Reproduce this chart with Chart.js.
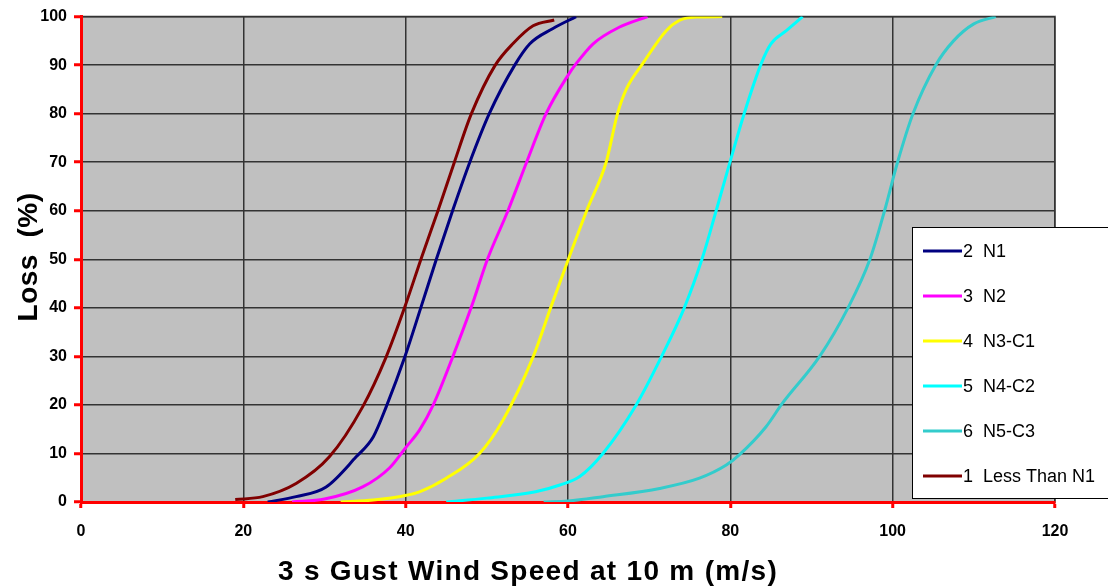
<!DOCTYPE html>
<html>
<head>
<meta charset="utf-8">
<script src="https://cdn.jsdelivr.net/npm/chart.js@4.4.1/dist/chart.umd.min.js"></script>
<style>
  html, body { margin: 0; padding: 0; background: #fff; }
  #wrap { width: 1108px; height: 586px; position: relative; }
</style>
</head>
<body>
<div id="wrap"><canvas id="myChart" width="1108" height="586"></canvas></div>
<script>
// wind speed (m/s) / loss (%)
const n1Speed = [23, 26.5, 30.2, 33.9, 36, 37.6, 39.9, 41.9, 43.8, 45.8, 47.9, 50.3, 53.4, 55.3, 58.1, 61];
const n1Loss  = [0, 1.1, 3.1, 9.3, 13.4, 19.6, 29.9, 40.2, 50.1, 60.1, 70, 80, 89.9, 94.4, 97.5, 100];

const n2Speed = [26, 30, 34.7, 38, 40.1, 41.7, 43.4, 45.8, 48.1, 50.1, 52.6, 54.9, 57.3, 60, 61, 63.1, 66.3, 69.8];
const n2Loss  = [0, 0.6, 3.1, 7, 11.4, 14.8, 20, 29.9, 40.2, 50.1, 60, 70, 80, 87.9, 90.3, 94.4, 97.8, 100];

const n3Speed = [32, 36, 40.1, 41.7, 45, 49.1, 52, 55.7, 57.9, 60, 62.3, 64.7, 66.1, 67.2, 69.2, 72.1, 73.7, 75.8, 79];
const n3Loss  = [0, 0.4, 1.4, 2.1, 4.9, 10, 16.9, 29.9, 40.2, 49.8, 60, 70, 80, 85.1, 90.3, 97.1, 99.2, 99.9, 100];

const n4Speed = [45, 50, 56, 59, 61.4, 64.3, 68.4, 71.5, 74.3, 76.5, 78.2, 79.9, 81.7, 83.8, 85, 86.9, 88.9];
const n4Loss  = [0, 0.8, 2.1, 3.5, 5.2, 10, 20, 29.9, 39.9, 50, 59.7, 69.7, 80, 90.3, 94.4, 97.1, 100];

const n5Speed = [57, 60, 64.3, 71.3, 76.2, 79.5, 81.1, 84.4, 86.4, 91, 94.5, 97.2, 99, 100.6, 102.5, 105.3, 107.5, 110, 112.7];
const n5Loss  = [0, 0.2, 1.1, 2.8, 4.9, 7.6, 9.7, 15.5, 20.3, 30, 40, 50, 60, 70, 80, 90, 95, 98.5, 100];

const lessSpeed = [19, 22.4, 26.5, 30.6, 34.7, 37.6, 39.9, 42, 44, 46, 48.1, 51, 53.2, 55.7, 58.3];
const lessLoss  = [0.5, 1.1, 3.8, 9.3, 19.6, 29.9, 40.2, 50.6, 60.1, 70, 80, 89.9, 94.4, 98.1, 99.3];

const seriesNames = ['2  N1', '3  N2', '4  N3-C1', '5  N4-C2', '6  N5-C3', '1  Less Than N1'];
const seriesColors = ['#000080', '#FF00FF', '#FFFF00', '#00FFFF', '#33CCCC', '#800000'];
const xTicks = [0, 20, 40, 60, 80, 100, 120];
const yTicks = [0, 10, 20, 30, 40, 50, 60, 70, 80, 90, 100];

function toPoints(xs, ys) {
  return xs.map((x, i) => ({ x: x, y: ys[i] }));
}

const allSeries = [
  toPoints(n1Speed, n1Loss),
  toPoints(n2Speed, n2Loss),
  toPoints(n3Speed, n3Loss),
  toPoints(n4Speed, n4Loss),
  toPoints(n5Speed, n5Loss),
  toPoints(lessSpeed, lessLoss)
];

const datasets = allSeries.map((pts, i) => ({
  label: seriesNames[i],
  data: pts,
  borderColor: seriesColors[i],
  backgroundColor: seriesColors[i],
  borderWidth: 3,
  pointRadius: 0,
  fill: false,
  cubicInterpolationMode: 'monotone'
}));

// gray plot area with a thin border
const plotBack = {
  id: 'plotBack',
  beforeDraw(chart) {
    const { ctx, chartArea: a } = chart;
    ctx.save();
    ctx.fillStyle = '#C0C0C0';
    ctx.fillRect(a.left, a.top, a.right - a.left, a.bottom - a.top);
    ctx.strokeStyle = '#808080';
    ctx.lineWidth = 2;
    ctx.strokeRect(a.left, a.top, a.right - a.left, a.bottom - a.top);
    ctx.restore();
  }
};

// axis titles + boxed legend on top of the plot
const extras = {
  id: 'extras',
  afterDraw(chart) {
    const ctx = chart.ctx;
    ctx.save();
    ctx.fillStyle = '#000';
    ctx.font = 'bold 28px "Liberation Sans", Arial, sans-serif';
    ctx.textAlign = 'center';
    ctx.textBaseline = 'middle';
    ctx.letterSpacing = '1.3px';
    ctx.fillText('3 s Gust Wind Speed at 10 m (m/s)', 528, 572);
    ctx.letterSpacing = '0.5px';
    ctx.translate(29, 257);
    ctx.rotate(-Math.PI / 2);
    ctx.fillText('Loss  (%)', 0, 0);
    ctx.restore();

    ctx.save();
    const bx = 912, by = 227, bw = 220, bh = 271;
    ctx.fillStyle = '#fff';
    ctx.fillRect(bx, by, bw, bh);
    ctx.strokeStyle = '#000';
    ctx.lineWidth = 1;
    ctx.strokeRect(bx + 0.5, by + 0.5, bw, bh);
    ctx.font = '18px "Liberation Sans", Arial, sans-serif';
    ctx.textAlign = 'left';
    ctx.textBaseline = 'middle';
    chart.data.datasets.forEach((ds, i) => {
      const y = 251 + i * 45;
      ctx.strokeStyle = ds.borderColor;
      ctx.lineWidth = 3;
      ctx.beginPath();
      ctx.moveTo(923, y);
      ctx.lineTo(962, y);
      ctx.stroke();
      ctx.fillStyle = '#000';
      ctx.fillText(ds.label, 963, y + 1);
    });
    ctx.restore();
  }
};

const ctx = document.getElementById('myChart').getContext('2d');
const myChart = new Chart(ctx, {
  type: 'line',
  data: { datasets: datasets },
  options: {
    responsive: false,
    animation: false,
    layout: { padding: { top: 16, right: 53, left: 0, bottom: 0 } },
    plugins: { legend: { display: false }, tooltip: { enabled: false } },
    scales: {
      x: {
        type: 'linear',
        min: 0,
        max: 120,
        afterFit: (scale) => { scale.height = 84; },
        afterBuildTicks: (scale) => { scale.ticks = xTicks.map(v => ({ value: v })); },
        ticks: {
          color: '#000',
          font: { family: '"Liberation Sans", Arial, sans-serif', size: 16, weight: 'bold' },
          padding: 14,
          maxRotation: 0
        },
        grid: { color: '#333', lineWidth: 1.5, tickColor: '#FF0000', tickLength: 6, tickWidth: 3 },
        border: { color: '#FF0000', width: 3 }
      },
      y: {
        min: 0,
        max: 100,
        afterFit: (scale) => { scale.width = 81; },
        afterBuildTicks: (scale) => { scale.ticks = yTicks.map(v => ({ value: v })); },
        ticks: {
          color: '#000',
          font: { family: '"Liberation Sans", Arial, sans-serif', size: 16, weight: 'bold' },
          padding: 7
        },
        grid: { color: '#333', lineWidth: 1.5, tickColor: '#FF0000', tickLength: 7, tickWidth: 3 },
        border: { color: '#FF0000', width: 3 }
      }
    }
  },
  plugins: [plotBack, extras]
});
</script>
</body>
</html>
